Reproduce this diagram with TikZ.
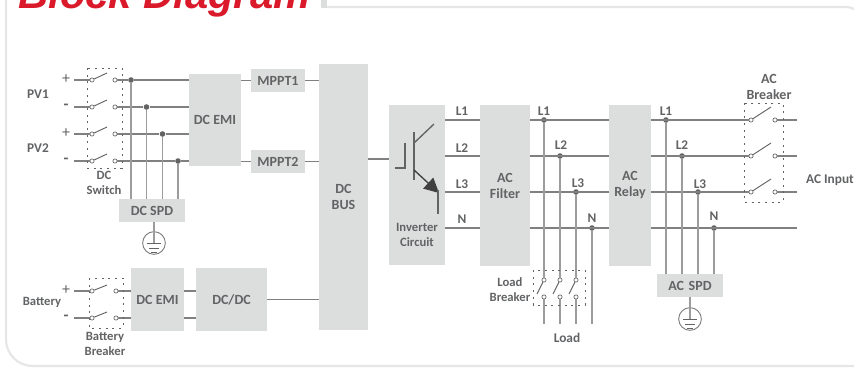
\documentclass[tikz,border=0pt]{standalone}
\usepackage{fontspec}
\setmainfont{Carlito}
\newfontfamily\titlefont{Liberation Sans}
\usetikzlibrary{arrows.meta}
\definecolor{blockgray}{HTML}{DCDDDD}
\definecolor{textgray}{HTML}{626365}
\definecolor{linegray}{HTML}{808080}
\definecolor{risergray}{HTML}{9C9C9C}
\definecolor{framegray}{HTML}{E6E6E6}
\definecolor{titlered}{HTML}{DA1A2B}

\begin{document}
\begin{tikzpicture}[x=0.75pt,y=-0.75pt]
\tikzset{block/.style = {fill=blockgray,inner sep=0pt,align=center,text=textgray,font=\bfseries\fontsize{10.5}{12}\selectfont}}
\tikzset{tag/.style = {align=center,inner sep=0pt,text=textgray,font=\bfseries\fontsize{10}{11.5}\selectfont}}
\tikzset{small/.style = {tag,font=\bfseries\fontsize{9.5}{10.7}\selectfont}}
\tikzset{sign/.style = {tag,font=\fontsize{12}{12}\selectfont}}
\tikzset{edge/.style = {draw=linegray,line width=1pt}}
\tikzset{riser/.style = {draw=risergray,line width=1.1pt}}
\tikzset{thin edge/.style = {draw=textgray,line width=0.7pt}}
\tikzset{contact/.style = {shape=circle,draw=textgray,fill=white,line width=0.5pt,inner sep=0pt,minimum size=3.2pt}}
\tikzset{junction/.style = {shape=circle,fill=textgray,inner sep=0pt,minimum size=4.2pt}}
\tikzset{cover/.style = {draw=textgray,line width=0.6pt,dash pattern=on 1.5pt off 3.5pt}}
\tikzset{earth/.style = {shape=circle,draw=linegray,line width=0.7pt,inner sep=0pt,minimum size=17pt}}
\tikzset{frame/.style = {draw=framegray,line width=1.6pt,rounded corners=20pt}}

\useasboundingbox (0,0) rectangle (854,368);

% frame and title
\draw[frame] (6,-5) -- (6,366) -- (880,366);
\draw[frame,rounded corners=12pt] (327,7) -- (862,7) -- (862,40);
\fill[blockgray] (321,0) rectangle (327,8);
\node[anchor=base west,inner sep=0pt,text=titlered,font=\titlefont\bfseries\itshape\fontsize{31.3}{32}\selectfont] (title) at (18,8.5) {Block Diagram};

% blocks
\node[block,minimum width=39pt,minimum height=69pt] (emia) at (215,120) {DC EMI};
\node[block,minimum width=40.5pt,minimum height=17.25pt] (mppta) at (278,80.5) {MPPT1};
\node[block,minimum width=40.5pt,minimum height=17.25pt] (mpptb) at (278,161.5) {MPPT2};
\node[block,minimum width=36.75pt,minimum height=199.5pt] (bus) at (343.5,197) {DC\\BUS};
\node[block,minimum width=42pt,minimum height=120pt] (inv) at (417,185) {};
\node[block,minimum width=37.5pt,minimum height=120.75pt] (filter) at (505,185.5) {AC\\Filter};
\node[block,minimum width=31.5pt,minimum height=120.75pt] (relay) at (630,185.5) {AC\\Relay};
\node[block,minimum width=49.5pt,minimum height=17.25pt] (spd) at (152,210.5) {DC SPD};
\node[block,minimum width=39.75pt,minimum height=47.25pt] (emib) at (157.5,299.5) {DC EMI};
\node[block,minimum width=53.25pt,minimum height=47.25pt] (dcdc) at (231.5,299.5) {DC/DC};
\node[block,minimum width=49.5pt,minimum height=17.25pt] (acspd) at (690,285.5) {AC\,\,SPD};

% earth symbols
\node[earth] (gnda) at (154,243) {};
\node[earth] (gndb) at (690,319) {};

% PV switches
\coordinate (pa) at (74,80);
\coordinate (pb) at (74,107);
\coordinate (pc) at (74,134);
\coordinate (pd) at (74,161);
\node[contact] (pal) at (92,80) {};
\node[contact] (pbl) at (92,107) {};
\node[contact] (pcl) at (92,134) {};
\node[contact] (pdl) at (92,161) {};
\node[contact] (par) at (115,80) {};
\node[contact] (pbr) at (115,107) {};
\node[contact] (pcr) at (115,134) {};
\node[contact] (pdr) at (115,161) {};
\coordinate (pas) at (107,73);
\coordinate (pbs) at (107,100);
\coordinate (pcs) at (107,127);
\coordinate (pds) at (107,154);
\node[junction] (ja) at (131,80) {};
\node[junction] (jb) at (146.5,107) {};
\node[junction] (jc) at (162.5,134) {};
\node[junction] (jd) at (178,161) {};

% battery switches
\coordinate (ba) at (74,291);
\coordinate (bb) at (74,318);
\node[contact] (bal) at (92,291) {};
\node[contact] (bbl) at (92,318) {};
\node[contact] (bar) at (116,291) {};
\node[contact] (bbr) at (116,318) {};
\coordinate (bas) at (107,285);
\coordinate (bbs) at (107,312);

% rows of the AC side
\coordinate (rowa) at (0,120);
\coordinate (rowb) at (0,156);
\coordinate (rowc) at (0,192);
\coordinate (rown) at (0,228);
\node[junction] (la) at (544,120) {};
\node[junction] (lb) at (560,156) {};
\node[junction] (lc) at (576,192) {};
\node[junction] (ln) at (592,228) {};
\node[junction] (ra) at (666,120) {};
\node[junction] (rb) at (682,156) {};
\node[junction] (rc) at (698,192) {};
\node[junction] (rn) at (714,228) {};

% load breaker
\node[contact] (lat) at (544,280) {};
\node[contact] (lbt) at (560,280) {};
\node[contact] (lct) at (576,280) {};
\node[contact] (lab) at (544,297) {};
\node[contact] (lbb) at (560,297) {};
\node[contact] (lcb) at (576,297) {};
\coordinate (las) at (537,294);
\coordinate (lbs) at (553,294);
\coordinate (lcs) at (569,294);
\coordinate (lae) at (544,324);
\coordinate (lbe) at (560,324);
\coordinate (lce) at (576,324);
\coordinate (lne) at (592,324);

% AC breaker
\node[contact] (aal) at (751,120) {};
\node[contact] (abl) at (751,156) {};
\node[contact] (acl) at (751,192) {};
\node[contact] (aar) at (775,120) {};
\node[contact] (abr) at (775,156) {};
\node[contact] (acr) at (775,192) {};
\coordinate (aas) at (771,107);
\coordinate (abs) at (771,143);
\coordinate (acs) at (771,179);
\coordinate (aae) at (797,120);
\coordinate (abe) at (797,156);
\coordinate (ace) at (797,192);
\coordinate (ane) at (797,228);

% PV lines
\draw[edge] (pa) to (pal);
\draw[edge] (pb) to (pbl);
\draw[edge] (pc) to (pcl);
\draw[edge] (pd) to (pdl);
\draw[thin edge] (pal) to (pas);
\draw[thin edge] (pbl) to (pbs);
\draw[thin edge] (pcl) to (pcs);
\draw[thin edge] (pdl) to (pds);
\draw[edge] (par) to (ja);
\draw[edge] (ja) to (ja -| emia.west);
\draw[edge] (pbr) to (jb);
\draw[edge] (jb) to (jb -| emia.west);
\draw[edge] (pcr) to (jc);
\draw[edge] (jc) to (jc -| emia.west);
\draw[edge] (pdr) to (jd);
\draw[edge] (jd) to (jd -| emia.west);
\draw[riser] (ja) to (ja |- spd.north);
\draw[riser] (jb) to (jb |- spd.north);
\draw[riser] (jc) to (jc |- spd.north);
\draw[riser] (jd) to (jd |- spd.north);
\draw[riser] (spd.south -| gnda) to (gnda.center);
\draw[edge] (emia.east |- mppta) to (mppta);
\draw[edge] (emia.east |- mpptb) to (mpptb);
\draw[edge] (mppta) to (mppta -| bus.west);
\draw[edge] (mpptb) to (mpptb -| bus.west);

% battery lines
\draw[edge] (ba) to (bal);
\draw[edge] (bb) to (bbl);
\draw[thin edge] (bal) to (bas);
\draw[thin edge] (bbl) to (bbs);
\draw[edge] (bar) to (bar -| emib.west);
\draw[edge] (bbr) to (bbr -| emib.west);
\draw[edge] (emib.east |- bar) to (dcdc.west |- bar);
\draw[edge] (emib.east |- bbr) to (dcdc.west |- bbr);
\draw[edge] (dcdc) to (dcdc -| bus.west);

% AC lines
\draw[edge] (bus.east |- 0,159) to (inv.west |- 0,159);
\draw[edge] (inv.east |- rowa) to (filter.west |- rowa);
\draw[edge] (inv.east |- rowb) to (filter.west |- rowb);
\draw[edge] (inv.east |- rowc) to (filter.west |- rowc);
\draw[edge] (inv.east |- rown) to (filter.west |- rown);
\draw[edge] (filter.east |- rowa) to (relay.west |- rowa);
\draw[edge] (filter.east |- rowb) to (relay.west |- rowb);
\draw[edge] (filter.east |- rowc) to (relay.west |- rowc);
\draw[edge] (filter.east |- rown) to (relay.west |- rown);
\draw[edge] (relay.east |- rowa) to (aal);
\draw[edge] (relay.east |- rowb) to (abl);
\draw[edge] (relay.east |- rowc) to (acl);
\draw[edge] (relay.east |- rown) to (ane);
\draw[thin edge] (aal) to (aas);
\draw[thin edge] (abl) to (abs);
\draw[thin edge] (acl) to (acs);
\draw[edge] (aar) to (aae);
\draw[edge] (abr) to (abe);
\draw[edge] (acr) to (ace);
\draw[riser] (la) to (lat);
\draw[riser] (lb) to (lbt);
\draw[riser] (lc) to (lct);
\draw[riser] (ln) to (lne);
\draw[thin edge] (lat) to (las);
\draw[thin edge] (lbt) to (lbs);
\draw[thin edge] (lct) to (lcs);
\draw[riser] (lab) to (lae);
\draw[riser] (lbb) to (lbe);
\draw[riser] (lcb) to (lce);
\draw[riser] (ra) to (ra |- acspd.north);
\draw[riser] (rb) to (rb |- acspd.north);
\draw[riser] (rc) to (rc |- acspd.north);
\draw[riser] (rn) to (rn |- acspd.north);
\draw[riser] (acspd.south) to (gndb.center);

% earth bars
\draw[thin edge] (147,243) -- (161,243);
\draw[thin edge] (149,248) -- (159,248);
\draw[thin edge] (151,252) -- (157,252);
\draw[thin edge] (683,319) -- (697,319);
\draw[thin edge] (685,324) -- (695,324);
\draw[thin edge] (687,328) -- (693,328);

% transistor
\draw[thin edge,line width=1pt] (395,168) -- (405,168) -- (405,143);
\draw[thin edge,line width=1pt] (414,132) -- (414,180);
\draw[thin edge,line width=1pt] (414,143) -- (434,124);
\draw[thin edge,line width=1pt,draw=black!75,-{Triangle[length=11pt,width=11pt]}] (414,170) -- (439,193);
\draw[thin edge,line width=1pt] (438,190) -- (438,214);

% dotted covers
\draw[cover] (87,68) rectangle (122,168);
\draw[cover] (89,278) rectangle (123,328);
\draw[cover] (533,270) rectangle (585,305);
\draw[cover] (744,103) rectangle (783,202);

% labels
\node[tag] (pva) at (38,94) {PV1};
\node[tag] (pvb) at (38,148) {PV2};
\node[sign] (plusa) at (66,79) {+};
\node[tag,font=\bfseries\fontsize{12}{12}\selectfont] (minusa) at (66,107) {-};
\node[sign] (plusb) at (66,133) {+};
\node[tag,font=\bfseries\fontsize{12}{12}\selectfont] (minusb) at (66,161) {-};
\node[sign] (plusc) at (66,290) {+};
\node[tag,font=\bfseries\fontsize{12}{12}\selectfont] (minusc) at (66,318) {-};
\node[small] (dcsw) at (104,183) {DC\\Switch};
\node[small] (batt) at (42,302) {Battery};
\node[small] (battbr) at (105,344) {Battery\\Breaker};
\node[small] (invtext) at (417,235) {Inverter\\Circuit};
\node[tag] (ila) at (462,111) {L1};
\node[tag] (ilb) at (462,148) {L2};
\node[tag] (ilc) at (462,184) {L3};
\node[tag] (iln) at (462,219) {N};
\node[tag] (fla) at (544,111) {L1};
\node[tag] (flb) at (561,145) {L2};
\node[tag] (flc) at (578,183) {L3};
\node[tag] (fln) at (592,218) {N};
\node[tag] (rla) at (666,111) {L1};
\node[tag] (rlb) at (682,145) {L2};
\node[tag] (rlc) at (700,184) {L3};
\node[tag] (rln) at (714,216) {N};
\node[small] (loadbr) at (510,289.5) {Load\\Breaker};
\node[tag] (load) at (567,338) {Load};
\node[tag,font=\bfseries\fontsize{10.5}{12}\selectfont] (acbr) at (769,87) {AC\\Breaker};
\node[tag] (acin) at (830,180) {AC Input};
\end{tikzpicture}
\end{document}
